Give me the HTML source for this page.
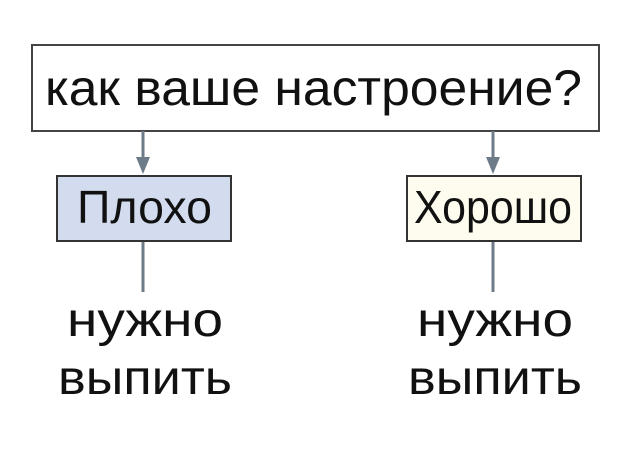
<!DOCTYPE html>
<html><head><meta charset="utf-8"><style>html,body{margin:0;padding:0;background:#fff}</style></head>
<body>
<svg width="632" height="454" xmlns="http://www.w3.org/2000/svg" font-family="Liberation Sans, Arial, sans-serif" fill="#111">
<rect width="632" height="454" fill="#fff"/>
<rect x="32" y="45" width="567" height="86" fill="#fff" stroke="#444" stroke-width="2"/>
<text x="45" y="105" font-size="50" textLength="537" lengthAdjust="spacingAndGlyphs">как ваше настроение?</text>
<g stroke="#6e7c8a" stroke-width="3">
<line x1="143" y1="131" x2="143" y2="160"/>
<line x1="493" y1="131" x2="493" y2="160"/>
<line x1="143" y1="241" x2="143" y2="292"/>
<line x1="493" y1="241" x2="493" y2="292"/>
</g>
<polygon points="136,157 150,157 143,174" fill="#6e7c8a"/>
<polygon points="486,157 500,157 493,174" fill="#6e7c8a"/>
<rect x="57" y="176" width="174" height="65" fill="#d3dcef" stroke="#333" stroke-width="2"/>
<rect x="407" y="176" width="174" height="65" fill="#fdfcee" stroke="#333" stroke-width="2"/>
<text x="77" y="223" font-size="46" textLength="135" lengthAdjust="spacingAndGlyphs">Плохо</text>
<text x="414" y="223" font-size="46" textLength="158" lengthAdjust="spacingAndGlyphs">Хорошо</text>
<text x="67" y="336" font-size="48" textLength="156" lengthAdjust="spacingAndGlyphs">нужно</text>
<text x="58" y="394" font-size="48" textLength="174" lengthAdjust="spacingAndGlyphs">выпить</text>
<text x="417" y="336" font-size="48" textLength="156" lengthAdjust="spacingAndGlyphs">нужно</text>
<text x="408" y="394" font-size="48" textLength="174" lengthAdjust="spacingAndGlyphs">выпить</text>
</svg>
</body></html>
